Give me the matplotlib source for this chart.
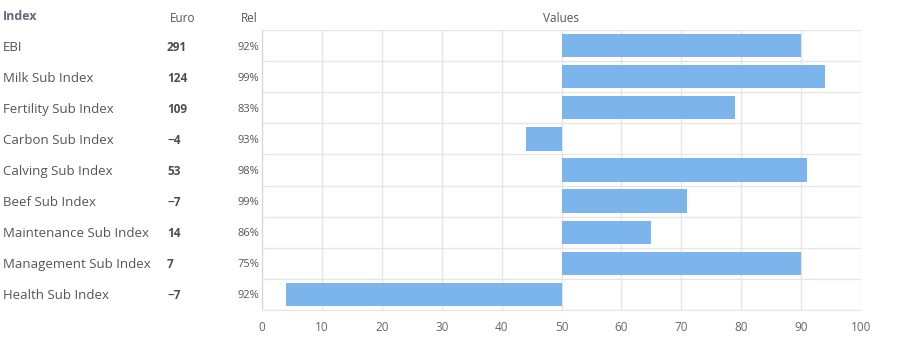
import numpy as np
import matplotlib.pyplot as plt
from matplotlib.transforms import blended_transform_factory, offset_copy

plt.rcParams['font.family'] = ['Open Sans', 'DejaVu Sans']

labels = ['EBI', 'Milk Sub Index', 'Fertility Sub Index', 'Carbon Sub Index',
          'Calving Sub Index', 'Beef Sub Index', 'Maintenance Sub Index',
          'Management Sub Index', 'Health Sub Index']
euro = ['291', '124', '109', '\u22124', '53', '\u22127', '14', '7', '\u22127']
rel = ['92%', '99%', '83%', '93%', '98%', '99%', '86%', '75%', '92%']
values = [90, 94, 79, 44, 91, 71, 65, 90, 4]
base = 50

fig = plt.figure(figsize=(9.13, 3.55), dpi=100)
ax = fig.add_axes([262/913, 1-310/355, 599/913, 280/355])

y = np.arange(len(labels))
widths = [v - base for v in values]
ax.barh(y, widths, left=base, height=0.75, color='#7cb5ec', zorder=3)

ax.set_xlim(0, 100)
ax.set_ylim(len(labels) - 0.5, -0.5)
ax.set_xticks(np.arange(0, 101, 10))
ax.set_yticks([])
ax.set_yticks(np.arange(-0.5, len(labels), 1), minor=True)
ax.grid(True, axis='x', color='#e6e6e6', lw=1, zorder=0)
ax.grid(True, axis='y', which='minor', color='#e6e6e6', lw=1, zorder=0)
ax.tick_params(axis='x', length=0, pad=8, labelsize=8.5, labelcolor='#666666')
ax.tick_params(axis='y', which='both', length=0)
for s in ['top', 'right']:
    ax.spines[s].set_visible(False)
ax.spines['bottom'].set_color('#e6e6e6')
ax.spines['left'].set_color('#ccd6eb')

# text columns left of the plot, nudged a bit below row centre
tr = blended_transform_factory(fig.transFigure, ax.transData)
tr = offset_copy(tr, fig=fig, x=0, y=-1.5, units='dots')
for i in range(len(labels)):
    ax.text(3/913, i, labels[i], transform=tr, ha='left', va='center',
            fontsize=9.5, color='#555555')
    ax.text(167/913, i, euro[i], transform=tr, ha='left', va='center',
            fontsize=8.5, color='#4d4d4d', fontweight='bold')
    ax.text(259/913, i, rel[i], transform=tr, ha='right', va='center',
            fontsize=8, color='#555555')

fig.text(3/913, 1-16/355, 'Index', ha='left', va='center', fontsize=9,
         color='#666a80', fontweight='bold')
fig.text(183/913, 1-18/355, 'Euro', ha='center', va='center', fontsize=8.5,
         color='#555555')
fig.text(249/913, 1-18/355, 'Rel', ha='center', va='center', fontsize=8.5,
         color='#555555')
fig.text(561/913, 1-18/355, 'Values', ha='center', va='center', fontsize=8.5,
         color='#555555')

fig.savefig('out.png', dpi=100)
